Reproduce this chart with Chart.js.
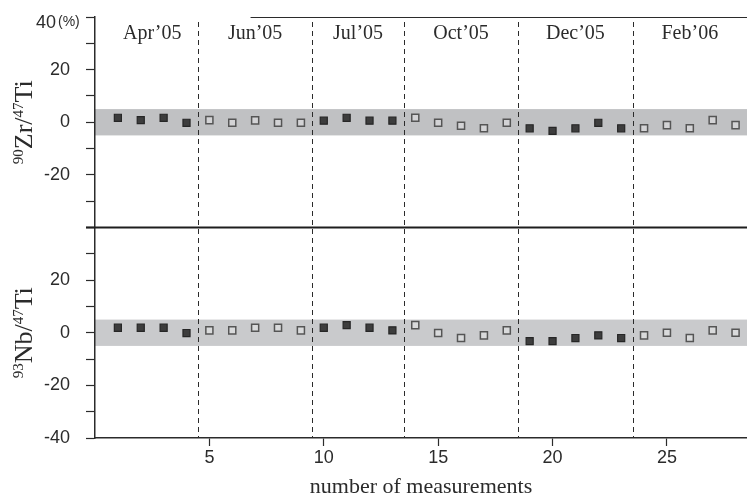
<!DOCTYPE html>
<html>
<head>
<meta charset="utf-8">
<script src="https://cdn.jsdelivr.net/npm/chart.js@4.4.1/dist/chart.umd.min.js"></script>
<style>
  html, body { margin: 0; padding: 0; background: #fff; }
  #wrap { width: 747px; height: 500px; }
</style>
</head>
<body>
<div id="wrap"><canvas id="chart" width="747" height="500"></canvas></div>
<script>
// measurement number (x axis)
const measurements = [1, 2, 3, 4, 5, 6, 7, 8, 9, 10, 11, 12, 13, 14, 15, 16, 17, 18, 19, 20, 21, 22, 23, 24, 25, 26, 27, 28];
// deviation in % for each measurement
const zrValues = [1.7, 0.8, 1.7, -0.2, 0.8, -0.2, 0.7, -0.2, -0.2, 0.6, 1.7, 0.6, 0.6, 1.7, -0.2, -1.3, -2.3, -0.2, -2.3, -3.3, -2.3, -0.2, -2.3, -2.3, -1.1, -2.3, 0.8, -1.1];
const nbValues = [1.9, 1.9, 1.9, -0.1, 0.9, 0.9, 1.9, 1.9, 0.9, 1.9, 2.9, 1.9, 0.9, 2.9, -0.1, -2.0, -1.0, 0.9, -3.2, -3.2, -2.0, -1.0, -2.0, -1.0, 0.0, -2.0, 0.9, 0.0];

// measuring campaigns
const monthLabels = ['Apr\u201905', 'Jun\u201905', 'Jul\u201905', 'Oct\u201905', 'Dec\u201905', 'Feb\u201906'];
const monthStart = [1, 5, 10, 14, 19, 24];
const monthEnd = [4, 9, 13, 18, 23, 28];
const monthFilled = [true, false, true, false, true, false];

const xTicks = [5, 10, 15, 20, 25];
const yTicks = [-40, -30, -20, -10, 0, 10, 20, 30, 40];
const topLabels = [20, 0, -20];        // 40 gets the "(%)" label separately
const bottomLabels = [20, 0, -20, -40];
const bandLimit = 5;

const zrTitle = [{ t: '90', sup: true }, { t: 'Zr/' }, { t: '47', sup: true }, { t: 'Ti' }];
const nbTitle = [{ t: '93', sup: true }, { t: 'Nb/' }, { t: '47', sup: true }, { t: 'Ti' }];

const INK = '#2b2b2b';
const SANS = '"Liberation Sans", Arial, sans-serif';
const SERIF = '"Liberation Serif", "Times New Roman", serif';

function groupOf(m) {
    return monthStart.findIndex((s, i) => m >= s && m <= monthEnd[i]);
}

function pointsFor(values, filled) {
    return measurements
        .map((m, i) => ({ x: m, y: values[i], f: monthFilled[groupOf(m)] }))
        .filter(p => p.f === filled)
        .map(p => ({ x: p.x, y: p.y }));
}

function noPadding(s) {
    s.paddingTop = 0; s.paddingBottom = 0; s.paddingLeft = 0; s.paddingRight = 0;
}

const filledStyle = {
    pointStyle: 'rect', pointRadius: 5, pointHoverRadius: 5,
    backgroundColor: '#3d3d3d', borderColor: '#262626', pointBorderWidth: 1.2, showLine: false
};
const openStyle = {
    pointStyle: 'rect', pointRadius: 5, pointHoverRadius: 5,
    backgroundColor: 'rgba(255,255,255,0.3)', borderColor: '#555', pointBorderWidth: 1.5, showLine: false
};

function yAxis(labels) {
    return {
        type: 'linear', position: 'left', stack: 'panels', stackWeight: 1,
        min: -40, max: 40,
        afterBuildTicks: s => { s.ticks = yTicks.map(v => ({ value: v })); },
        afterFit: s => { s.width = 95; noPadding(s); },
        ticks: {
            autoSkip: false, padding: 16, color: INK,
            font: { family: SANS, size: 18 },
            callback: v => labels.includes(v) ? String(v) : ''
        },
        grid: { drawOnChartArea: false, tickLength: 9, color: INK, tickWidth: 1.2 },
        border: { color: INK, width: 1.5 }
    };
}

function drawRich(ctx, parts, x, yc) {
    const mainFont = '26px ' + SERIF;
    const supFont = '15px ' + SERIF;
    ctx.save();
    ctx.translate(x, yc);
    ctx.rotate(-Math.PI / 2);
    ctx.fillStyle = INK;
    ctx.textAlign = 'left';
    ctx.textBaseline = 'alphabetic';
    let total = 0;
    parts.forEach(p => { ctx.font = p.sup ? supFont : mainFont; total += ctx.measureText(p.t).width; });
    let pos = -total / 2;
    parts.forEach(p => {
        ctx.font = p.sup ? supFont : mainFont;
        ctx.fillText(p.t, pos, p.sup ? -9 : 0);
        pos += ctx.measureText(p.t).width;
    });
    ctx.restore();
}

const decorPlugin = {
    id: 'decor',
    beforeDraw(chart) {
        const { ctx, chartArea, scales } = chart;
        ctx.save();
        // +-5 % band in each panel
        [['yTop', '#c0c1c3'], ['yBot', '#c9cacc']].forEach(([id, col]) => {
            const s = scales[id];
            const y1 = s.getPixelForValue(bandLimit), y2 = s.getPixelForValue(-bandLimit);
            ctx.fillStyle = col;
            ctx.fillRect(chartArea.left, y1, chartArea.right - chartArea.left, y2 - y1);
        });
        // campaign separators
        ctx.strokeStyle = INK;
        ctx.lineWidth = 1;
        ctx.setLineDash([5, 4]);
        for (let i = 0; i < monthStart.length - 1; i++) {
            const x = Math.round(scales.x.getPixelForValue((monthEnd[i] + monthStart[i + 1]) / 2)) + 0.5;
            ctx.beginPath();
            ctx.moveTo(x, chartArea.top + 5);
            ctx.lineTo(x, chartArea.bottom);
            ctx.stroke();
        }
        ctx.restore();
    },
    afterDraw(chart) {
        const { ctx, chartArea, scales } = chart;
        ctx.save();
        // line between the two panels
        const yMid = scales.yTop.getPixelForValue(-40);
        ctx.strokeStyle = '#1e1e1e';
        ctx.lineWidth = 2;
        ctx.beginPath();
        ctx.moveTo(chartArea.left - 9, yMid);
        ctx.lineTo(chartArea.right, yMid);
        ctx.stroke();
        // top frame line (only over the right part in the original)
        ctx.lineWidth = 1.2;
        ctx.strokeStyle = INK;
        ctx.beginPath();
        ctx.moveTo(scales.x.getPixelForValue(6.8), chartArea.top + 0.5);
        ctx.lineTo(chartArea.right, chartArea.top + 0.5);
        ctx.stroke();
        // campaign labels
        ctx.fillStyle = INK;
        ctx.font = '20px ' + SERIF;
        ctx.textAlign = 'center';
        ctx.textBaseline = 'alphabetic';
        monthLabels.forEach((lab, i) => {
            ctx.fillText(lab, scales.x.getPixelForValue((monthStart[i] + monthEnd[i]) / 2), 39);
        });
        // 40(%) label
        const y40 = scales.yTop.getPixelForValue(40);
        ctx.textAlign = 'right';
        ctx.font = '18px ' + SANS;
        ctx.fillText('40', 56, y40 + 11);
        ctx.textAlign = 'left';
        ctx.font = '14px ' + SANS;
        ctx.fillText('(%)', 58, y40 + 9);
        // axis titles
        drawRich(ctx, zrTitle, 32, (scales.yTop.top + scales.yTop.bottom) / 2);
        drawRich(ctx, nbTitle, 32, (scales.yBot.top + scales.yBot.bottom) / 2);
        ctx.restore();
    }
};

new Chart(document.getElementById('chart'), {
    type: 'scatter',
    data: {
        datasets: [
            Object.assign({ label: 'Zr filled', data: pointsFor(zrValues, true), yAxisID: 'yTop' }, filledStyle),
            Object.assign({ label: 'Zr open', data: pointsFor(zrValues, false), yAxisID: 'yTop' }, openStyle),
            Object.assign({ label: 'Nb filled', data: pointsFor(nbValues, true), yAxisID: 'yBot' }, filledStyle),
            Object.assign({ label: 'Nb open', data: pointsFor(nbValues, false), yAxisID: 'yBot' }, openStyle)
        ]
    },
    options: {
        responsive: false,
        animation: false,
        devicePixelRatio: 1,
        layout: { autoPadding: false, padding: { top: 17, right: 0, bottom: 0, left: 0 } },
        plugins: { legend: { display: false }, tooltip: { enabled: false } },
        scales: {
            x: {
                type: 'linear', position: 'bottom', min: 0, max: 28.5,
                afterBuildTicks: s => { s.ticks = xTicks.map(v => ({ value: v })); },
                afterFit: s => { s.height = 62; noPadding(s); },
                ticks: { autoSkip: false, padding: 1, color: INK, font: { family: SANS, size: 18 } },
                grid: { drawOnChartArea: false, tickLength: 8, color: INK, tickWidth: 1.2 },
                border: { color: INK, width: 1.5 },
                title: {
                    display: true, text: 'number of measurements', color: INK,
                    font: { family: SERIF, size: 22 }, padding: { top: 0, bottom: 0 }
                }
            },
            yBot: yAxis(bottomLabels),
            yTop: yAxis(topLabels)
        }
    },
    plugins: [decorPlugin]
});
</script>
</body>
</html>
